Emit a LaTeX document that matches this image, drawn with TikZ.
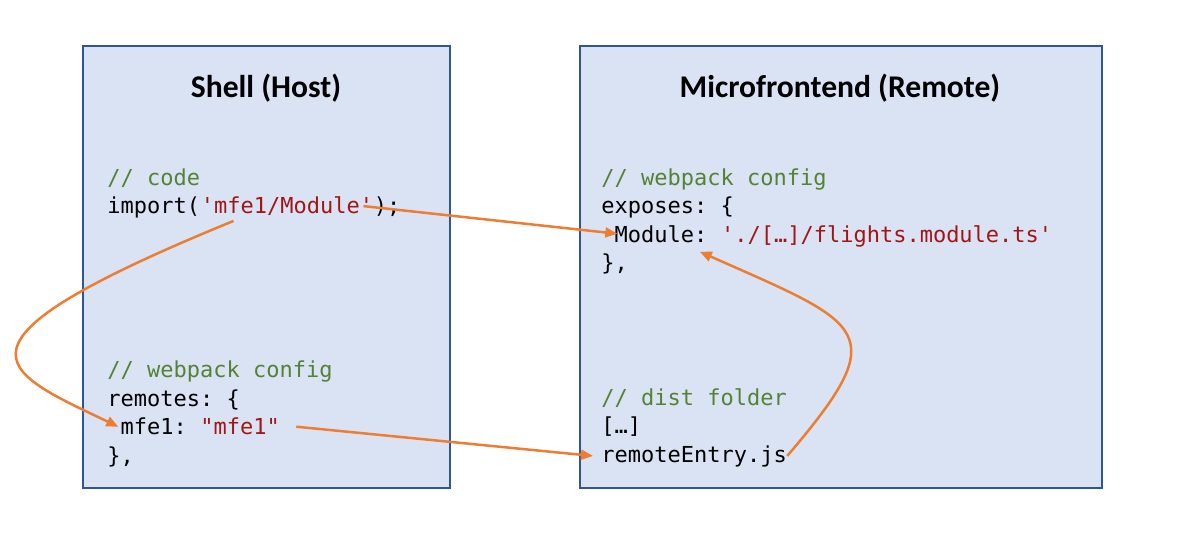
\documentclass[tikz,border=0pt]{standalone}
\usepackage{fontspec}
\setmainfont{Carlito}
\setmonofont{DejaVu Sans Mono}
\usetikzlibrary{arrows.meta}

\definecolor{boxfill}{HTML}{DAE3F3}
\definecolor{boxline}{HTML}{2F5597}
\definecolor{cmtgreen}{HTML}{548235}
\definecolor{strred}{HTML}{A31515}
\definecolor{linkorange}{HTML}{ED7D31}

\tikzset{
	panel/.style={fill=boxfill, draw=boxline, line width=0.6pt},
	title/.style={font=\fontsize{15.8}{18}\selectfont\bfseries, anchor=base, inner sep=0pt},
	code/.style={font=\fontsize{11}{13}\ttfamily, inner sep=0pt, anchor=base west},
	cmt/.style={code, text=cmtgreen},
	str/.style={code, text=strred},
	link/.style={draw=linkorange, line width=1.25pt, -{Triangle[length=6pt,width=5pt]}}
}

\begin{document}
\begin{tikzpicture}[x=0.5pt, y=-0.5pt]
	\useasboundingbox (0,0) rectangle (1185,537);

	% Boxes
	\draw[panel] (83,46) rectangle (450,488);
	\draw[panel] (580,46) rectangle (1102,488);
	\node[title] (host) at (266,97) {Shell (Host)};
	\node[title] (remote) at (840,97) {Microfrontend (Remote)};

	% Shell: code
	\node[cmt] (hcmt) at (107,185) {// code};
	\node[code] (imp) at (107,213.5) {import(};
	\node[str] (impstr) at (imp.base east) {'mfe1/Module'};
	\node[code] (impend) at (impstr.base east) {);};

	% Shell: webpack config
	\node[cmt] (hcfg) at (107,377.7) {// webpack config};
	\node[code] (rem) at (107,406.3) {remotes: \{};
	\node[code] (mfekey) at (120.3,434.9) {mfe1:};
	\node[str] (mfestr) at (200,434.9) {"mfe1"};
	\node[code] (remend) at (107,463.5) {\},};

	% Microfrontend: webpack config
	\node[cmt] (rcfg) at (601,185) {// webpack config};
	\node[code] (exp) at (601,213.5) {exposes: \{};
	\node[code] (modkey) at (614.3,242) {Module:};
	\node[str] (modstr) at (720.7,242) {'./[…]/flights.module.ts'};
	\node[code] (expend) at (601,270.5) {\},};

	% Microfrontend: dist folder
	\node[cmt] (dist) at (601,405) {// dist folder};
	\node[code] (dots) at (601,433.5) {[…]};
	\node[code] (entry) at (601,462) {remoteEntry.js};

	% Links
	\draw[link] ([xshift=-5pt]impstr.east) -- ([xshift=1.5pt]modkey.west);
	\draw[link] ([shift={(33,5)}]impstr.south west)
		.. controls (-70,345) and (0,370) .. ([xshift=-1pt]mfekey.west);
	\draw[link] ([xshift=8pt]mfestr.east) -- ([xshift=-4pt]entry.west);
	\draw[link] (entry.east)
		.. controls (895,330) and (865,325) .. ([shift={(-8,9)}]modkey.south east);
\end{tikzpicture}
\end{document}
